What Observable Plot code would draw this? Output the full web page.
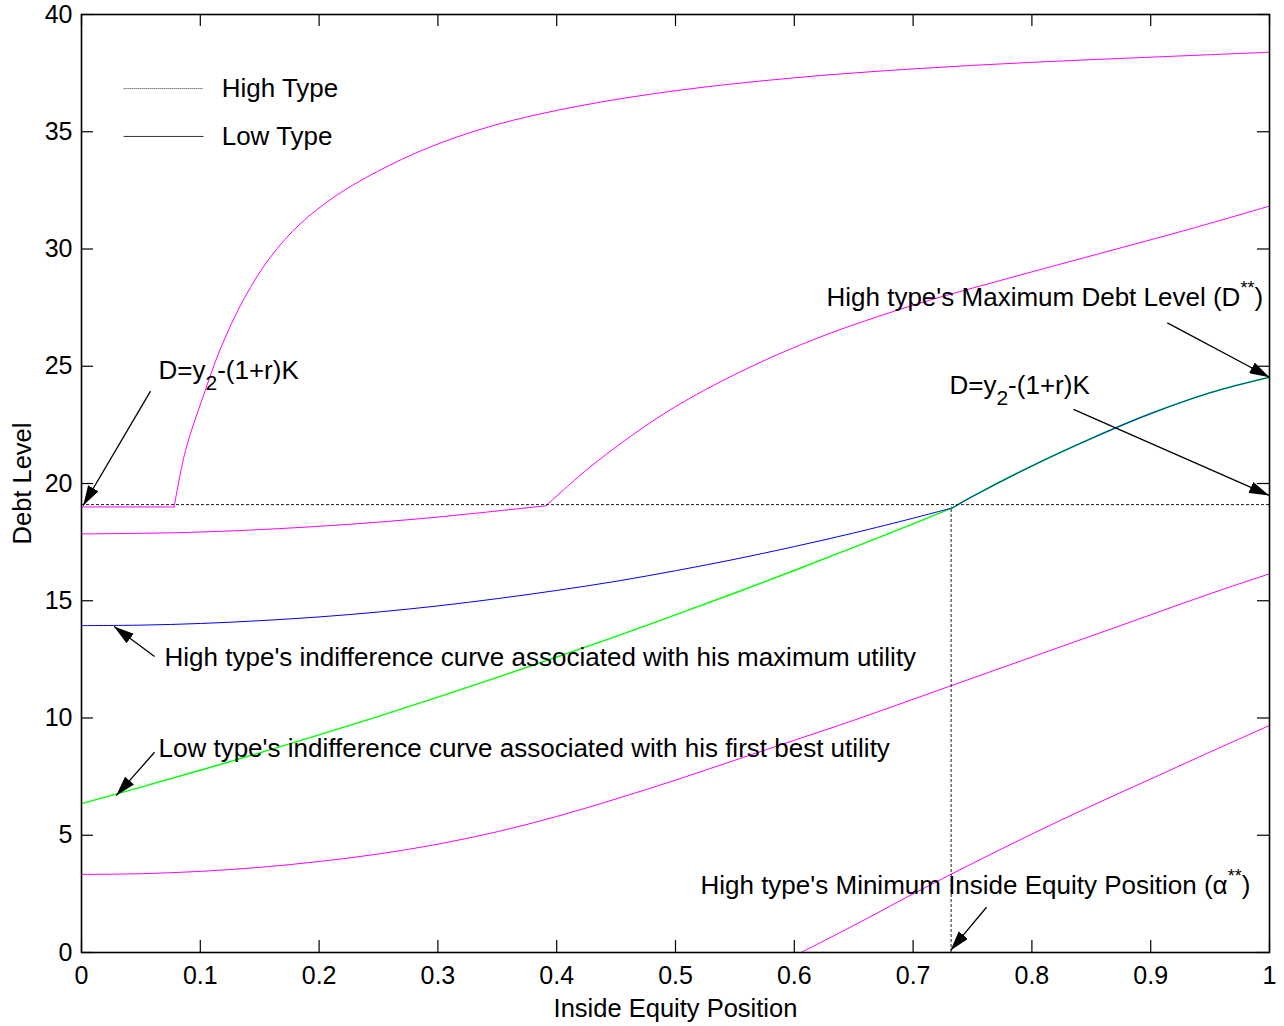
<!DOCTYPE html>
<html>
<head>
<meta charset="utf-8">
<script src="https://cdn.jsdelivr.net/npm/d3@7"></script>
<script src="https://cdn.jsdelivr.net/npm/@observablehq/plot@0.6"></script>
<style>
  html, body { margin: 0; padding: 0; background: #fff; }
  #chart svg { display: block; }
</style>
</head>
<body>
<div id="chart"></div>
<script>
// ---------- axis ticks ----------
const xTicks = [0, 0.1, 0.2, 0.3, 0.4, 0.5, 0.6, 0.7, 0.8, 0.9, 1];
const yTicks = [0, 5, 10, 15, 20, 25, 30, 35, 40];

// ---------- reference levels ----------
const highTypeDebt = 19.1;      // D = y2-(1+r)K  (High Type, dotted)
const alphaStar = 0.732;        // high type's minimum inside equity position
const alphaStarTop = 19.0;

// ---------- magenta curves ----------
const mag1FlatX = [0, 0.078];
const mag1FlatY = [19.0, 19.0];
const mag1RiseX = [0.078, 0.0875, 0.103, 0.117, 0.137, 0.159, 0.184, 0.215, 0.249, 0.291, 0.347, 0.417, 0.5, 0.6, 0.7, 0.8, 0.9, 1.0];
const mag1RiseY = [19.0, 21.4, 23.8, 25.75, 27.9, 29.65, 31.07, 32.3, 33.3, 34.3, 35.27, 36.08, 36.75, 37.3, 37.68, 37.96, 38.18, 38.39];

const mag2LowX = [0, 0.094, 0.189, 0.283, 0.391];
const mag2LowY = [17.85, 17.92, 18.14, 18.49, 19.05];
const mag2HighX = [0.391, 0.4256, 0.4647, 0.504, 0.5627, 0.6215, 0.6998, 0.778, 0.8566, 0.935, 1.0];
const mag2HighY = [19.05, 20.6, 22.1, 23.4, 24.96, 26.24, 27.6, 28.72, 29.8, 30.88, 31.83];

const mag3X = [0, 0.05, 0.1, 0.15, 0.2, 0.25, 0.3, 0.35, 0.4, 0.45, 0.5, 0.55, 0.6, 0.65, 0.7, 0.75, 0.8, 0.85, 0.9, 0.95, 1.0];
const mag3Y = [3.33, 3.36, 3.46, 3.63, 3.88, 4.2, 4.62, 5.15, 5.8, 6.55, 7.35, 8.2, 9.05, 9.9, 10.8, 11.7, 12.6, 13.5, 14.4, 15.3, 16.15];

const mag4X = [0.6057, 0.65, 0.7, 0.75, 0.8, 0.85, 0.9, 0.95, 1.0];
const mag4Y = [0, 1.15, 2.5, 3.8, 5.05, 6.25, 7.4, 8.55, 9.68];

// ---------- high type's indifference curve (blue) ----------
const blueX = [0, 0.05, 0.1, 0.15, 0.2, 0.25, 0.3, 0.35, 0.4, 0.45, 0.5, 0.55, 0.6, 0.65, 0.7, 0.733];
const blueY = [13.94, 13.96, 14.03, 14.15, 14.31, 14.52, 14.78, 15.09, 15.44, 15.83, 16.28, 16.77, 17.31, 17.89, 18.52, 18.96];

// ---------- low type's indifference curve (green) ----------
const greenX = [0, 0.05, 0.1, 0.15, 0.2, 0.25, 0.3, 0.35, 0.4, 0.45, 0.5, 0.55, 0.6, 0.65, 0.7, 0.733];
const greenY = [6.35, 7.05, 7.77, 8.51, 9.28, 10.07, 10.89, 11.73, 12.6, 13.48, 14.4, 15.33, 16.29, 17.28, 18.28, 18.96];

// ---------- shared segment after the junction (blue + green) ----------
const sharedX = [0.733, 0.75, 0.8, 0.85, 0.9, 0.95, 1.0];
const sharedY = [18.96, 19.45, 20.75, 21.92, 22.98, 23.87, 24.53];

// ---------- annotations ----------
const annotText = [
  "D=y_{2}-(1+r)K",
  "D=y_{2}-(1+r)K",
  "High type's Maximum Debt Level (D^{**})",
  "High type's indifference curve associated with his maximum utility",
  "Low type's indifference curve associated with his first best utility",
  "High type's Minimum Inside Equity Position (α^{**})"
];
const annotX = [0.0648, 0.7306, 0.6271, 0.0699, 0.0648, 0.521];
const annotY = [24.82, 24.18, 27.93, 12.58, 8.70, 2.86];

const arrowX1 = [0.0581, 0.835, 0.914, 0.0615, 0.0615, 0.7618];
const arrowY1 = [23.94, 23.16, 26.85, 12.62, 8.54, 1.93];
const arrowX2 = [0.0014, 0.9997, 1.0, 0.0274, 0.0293, 0.7315];
const arrowY2 = [19.06, 19.49, 24.53, 13.9, 6.69, 0.09];

// ---------- legend ----------
const legendLabels = ["High Type", "Low Type"];
const legendY = [36.84, 34.8];
const legendX1 = 0.0354, legendX2 = 0.1027, legendTextX = 0.118;

// ---------- build tables ----------
const series = (xs, ys) => xs.map((x, i) => ({x, y: ys[i]}));
const annots = annotText.map((t, i) => ({t, x: annotX[i], y: annotY[i]}));
const arrows = arrowX1.map((x1, i) => ({x1, y1: arrowY1[i], x2: arrowX2[i], y2: arrowY2[i]}));
const legend = legendLabels.map((l, i) => ({l, y: legendY[i]}));

const W = 1284, H = 1026;
const mL = 81, mR = 15, mT = 14, mB = 74;
const frameH = H - mT - mB, frameW = W - mL - mR;
const TICK = 12;
const FONT = "'Liberation Sans', Arial, Helvetica, sans-serif";

const magenta = "#ff00ff";
const lineOpts = (stroke, w = 1) => ({x: "x", y: "y", stroke, strokeWidth: w, curve: "catmull-rom"});

const plot = Plot.plot({
  width: W,
  height: H,
  marginLeft: mL,
  marginRight: mR,
  marginTop: mT,
  marginBottom: mB,
  x: {domain: [0, 1], axis: null},
  y: {domain: [0, 40], axis: null},
  style: {fontFamily: FONT, fontSize: "25px", color: "black", background: "white"},
  marks: [
    // curves
    Plot.line(series(mag1FlatX, mag1FlatY), {...lineOpts(magenta), curve: "linear"}),
    Plot.line(series(mag1RiseX, mag1RiseY), lineOpts(magenta)),
    Plot.line(series(mag2LowX, mag2LowY), lineOpts(magenta)),
    Plot.line(series(mag2HighX, mag2HighY), lineOpts(magenta)),
    Plot.line(series(mag3X, mag3Y), lineOpts(magenta)),
    Plot.line(series(mag4X, mag4Y), lineOpts(magenta)),
    Plot.line(series(greenX, greenY), lineOpts("#00ff00", 1.4)),
    Plot.line(series(blueX, blueY), lineOpts("#0000ff", 1)),
    Plot.line(series(sharedX, sharedY), lineOpts("#00ff00", 1.6)),
    Plot.line(series(sharedX, sharedY), {...lineOpts("#0000ff", 1.1), strokeOpacity: 0.75}),
    // High type's reference level and alpha**
    Plot.ruleY([highTypeDebt], {x1: 0, x2: 1, stroke: "black", strokeWidth: 0.9, strokeDasharray: "3,2"}),
    Plot.ruleX([alphaStar], {y1: 0, y2: alphaStarTop, stroke: "black", strokeWidth: 0.9, strokeDasharray: "3,2"}),
    // frame & inward ticks
    Plot.frame({stroke: "black", strokeWidth: 1.6}),
    Plot.tickX(xTicks, {x: d => d, insetTop: frameH - TICK, stroke: "black", strokeWidth: 1.2}),
    Plot.tickX(xTicks, {x: d => d, insetBottom: frameH - TICK, stroke: "black", strokeWidth: 1.2}),
    Plot.tickY(yTicks, {y: d => d, insetRight: frameW - TICK, stroke: "black", strokeWidth: 1.2}),
    Plot.tickY(yTicks, {y: d => d, insetLeft: frameW - TICK, stroke: "black", strokeWidth: 1.2}),
    // tick labels
    Plot.axisX(xTicks, {anchor: "bottom", tickSize: 0, tickPadding: 14, tickFormat: d => String(d), fontSize: 25}),
    Plot.axisY(yTicks, {anchor: "left", tickSize: 0, tickPadding: 9, tickFormat: d => String(d), fontSize: 25}),
    // axis titles
    Plot.text(["Inside Equity Position"], {frameAnchor: "bottom", dy: 56, text: d => d, fontSize: 25.5, textAnchor: "middle", lineAnchor: "middle"}),
    Plot.text(["Debt Level"], {frameAnchor: "left", dx: -59, rotate: -90, text: d => d, fontSize: 25.5, textAnchor: "middle", lineAnchor: "middle"}),
    // legend
    Plot.link(legend.slice(0, 1), {x1: legendX1, x2: legendX2, y1: "y", y2: "y", stroke: "#555", strokeWidth: 1, strokeDasharray: "1.2,0.8"}),
    Plot.link(legend.slice(1, 2), {x1: legendX1, x2: legendX2, y1: "y", y2: "y", stroke: "#333", strokeWidth: 1}),
    Plot.text(legend, {x: legendTextX, y: "y", text: "l", textAnchor: "start", fontSize: 26}),
    // annotations
    Plot.link(arrows, {x1: "x1", y1: "y1", x2: "x2", y2: "y2", stroke: "black", strokeWidth: 1.3}),
    Plot.text(annots, {x: "x", y: "y", text: "t", textAnchor: "start", fontSize: 26})
  ]
});

// Filled arrowheads for the annotation arrows (the last link mark)
const svgNS = "http://www.w3.org/2000/svg";
const defs = document.createElementNS(svgNS, "defs");
const marker = document.createElementNS(svgNS, "marker");
marker.setAttribute("id", "fillhead");
marker.setAttribute("viewBox", "0 0 20 12");
marker.setAttribute("refX", "20");
marker.setAttribute("refY", "6");
marker.setAttribute("markerWidth", "20");
marker.setAttribute("markerHeight", "12");
marker.setAttribute("markerUnits", "userSpaceOnUse");
marker.setAttribute("orient", "auto");
const mp = document.createElementNS(svgNS, "path");
mp.setAttribute("d", "M0,0L20,6L0,12Z");
mp.setAttribute("fill", "black");
mp.setAttribute("stroke", "none");
marker.appendChild(mp);
defs.appendChild(marker);
plot.insertBefore(defs, plot.firstChild);
const linkGroups = plot.querySelectorAll('g[aria-label="link"]');
const arrowGroup = linkGroups[linkGroups.length - 1];
if (arrowGroup) arrowGroup.querySelectorAll("path, line").forEach(p => p.setAttribute("marker-end", "url(#fillhead)"));

// Sub- and superscripts in annotation text
plot.querySelectorAll("text").forEach(t => {
  const s = t.textContent;
  if (!/[_^]\{/.test(s)) return;
  const parts = s.split(/([_^]\{[^}]*\})/).filter(p => p.length);
  t.textContent = "";
  let shift = 0;
  parts.forEach(p => {
    const ts = document.createElementNS(svgNS, "tspan");
    let target = 0, size = null, txt = p;
    if (p.startsWith("_{")) { target = 11; size = "21px"; txt = p.slice(2, -1); }
    else if (p.startsWith("^{")) { target = -12; size = "18px"; txt = p.slice(2, -1); }
    const dy = target - shift;
    if (dy !== 0) ts.setAttribute("dy", dy);
    if (size) ts.setAttribute("font-size", size);
    shift = target;
    ts.textContent = txt;
    t.appendChild(ts);
  });
});

document.getElementById("chart").appendChild(plot);
</script>
</body>
</html>
